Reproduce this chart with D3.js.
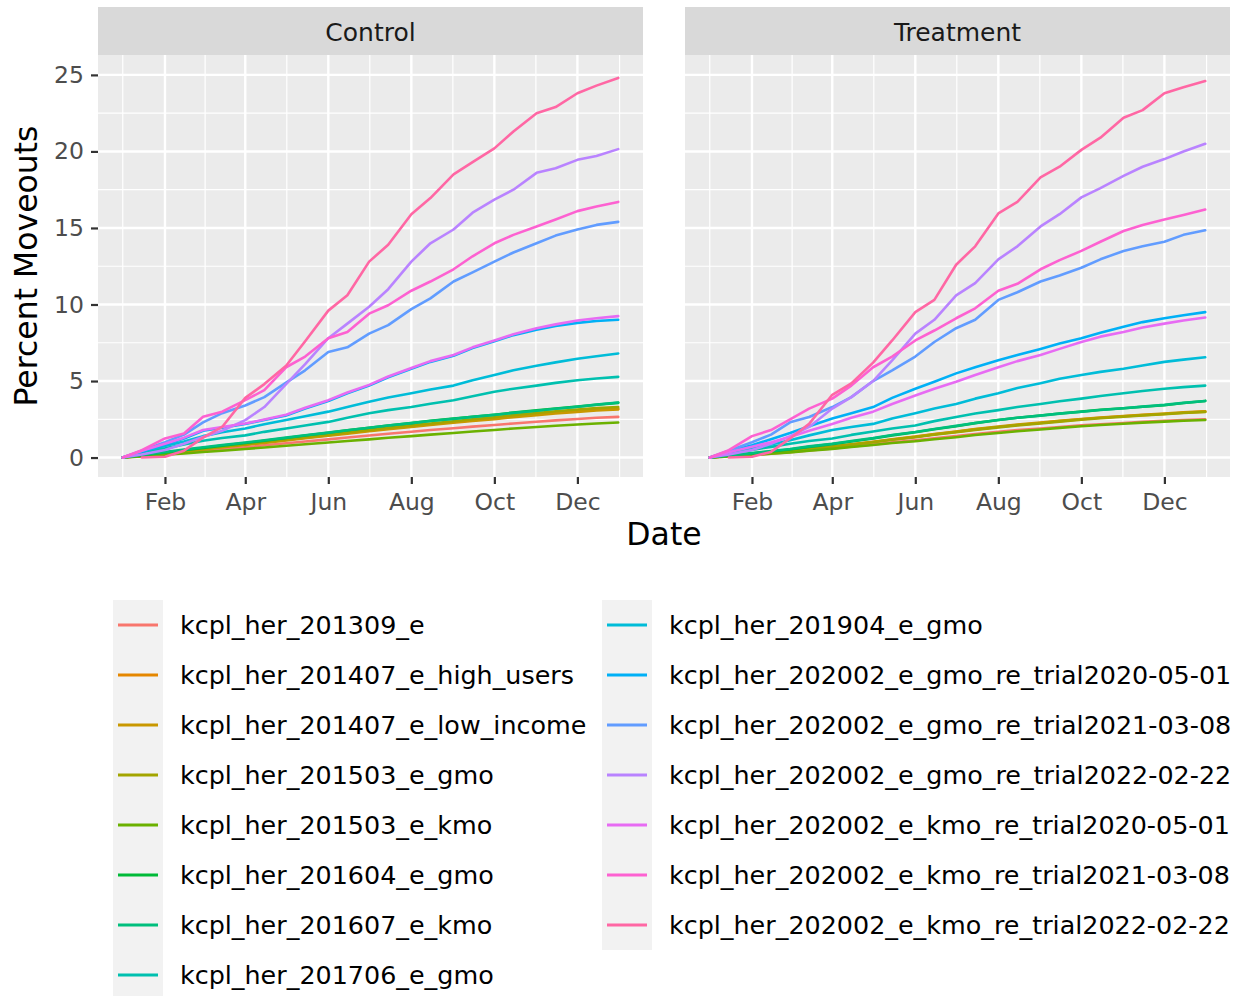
<!DOCTYPE html>
<html>
<head>
<meta charset="utf-8">
<script src="https://cdn.jsdelivr.net/npm/d3@7"></script>
<style>
  body { margin: 0; background: #fff; }
  svg { display: block; }
</style>
</head>
<body>
<script>
// facet names and series (legend order = draw order)
const panels = ["Control", "Treatment"];

const seriesNames = [
  "kcpl_her_201309_e",
  "kcpl_her_201407_e_high_users",
  "kcpl_her_201407_e_low_income",
  "kcpl_her_201503_e_gmo",
  "kcpl_her_201503_e_kmo",
  "kcpl_her_201604_e_gmo",
  "kcpl_her_201607_e_kmo",
  "kcpl_her_201706_e_gmo",
  "kcpl_her_201904_e_gmo",
  "kcpl_her_202002_e_gmo_re_trial2020-05-01",
  "kcpl_her_202002_e_gmo_re_trial2021-03-08",
  "kcpl_her_202002_e_gmo_re_trial2022-02-22",
  "kcpl_her_202002_e_kmo_re_trial2020-05-01",
  "kcpl_her_202002_e_kmo_re_trial2021-03-08",
  "kcpl_her_202002_e_kmo_re_trial2022-02-22"
];

const seriesColors = [
  "#F8766D", "#E58700", "#C99800", "#A3A500", "#6BB100",
  "#00BA38", "#00BF7D", "#00C0AF", "#00BCD8", "#00B0F6",
  "#619CFF", "#B983FF", "#E76BF3", "#FD61D1", "#FF67A4"
];

// sample dates (1st and 15th of each month)
const dates = [
  "2023-01-01", "2023-01-15", "2023-02-01", "2023-02-15", "2023-03-01",
  "2023-03-15", "2023-04-01", "2023-04-15", "2023-05-01", "2023-05-15",
  "2023-06-01", "2023-06-15", "2023-07-01", "2023-07-15", "2023-08-01",
  "2023-08-15", "2023-09-01", "2023-09-15", "2023-10-01", "2023-10-15",
  "2023-11-01", "2023-11-15", "2023-12-01", "2023-12-15", "2023-12-31"
];

// percent moveouts, one row per series
const controlValues = [
  [0,0.09,0.2,0.31,0.42,0.54,0.67,0.8,0.93,1.05,1.19,1.31,1.44,1.56,1.69,1.8,1.92,2.02,2.13,2.23,2.34,2.43,2.52,2.6,2.66],
  [0,0.12,0.28,0.42,0.55,0.7,0.85,1.0,1.15,1.3,1.46,1.6,1.77,1.9,2.05,2.18,2.32,2.44,2.56,2.7,2.83,2.94,3.05,3.13,3.2],
  [0,0.11,0.26,0.4,0.53,0.67,0.82,0.96,1.11,1.26,1.42,1.56,1.72,1.86,2.0,2.13,2.27,2.39,2.51,2.64,2.77,2.88,2.98,3.07,3.15],
  [0,0.13,0.3,0.44,0.58,0.73,0.88,1.03,1.19,1.34,1.5,1.65,1.81,1.95,2.1,2.23,2.37,2.5,2.63,2.77,2.91,3.03,3.14,3.23,3.3],
  [0,0.08,0.18,0.27,0.36,0.45,0.56,0.66,0.77,0.87,0.98,1.08,1.19,1.29,1.4,1.5,1.6,1.7,1.8,1.9,2.0,2.08,2.16,2.23,2.29],
  [0,0.15,0.33,0.48,0.62,0.78,0.95,1.1,1.28,1.44,1.62,1.78,1.95,2.1,2.25,2.4,2.55,2.67,2.8,2.94,3.08,3.2,3.33,3.45,3.57],
  [0,0.17,0.36,0.52,0.67,0.82,0.98,1.13,1.3,1.46,1.63,1.78,1.95,2.1,2.25,2.39,2.53,2.66,2.79,2.92,3.06,3.19,3.32,3.46,3.6],
  [0,0.35,0.6,0.85,1.1,1.28,1.45,1.68,1.9,2.1,2.33,2.6,2.9,3.1,3.3,3.52,3.75,4.0,4.3,4.5,4.7,4.88,5.05,5.17,5.27],
  [0,0.4,0.75,1.05,1.4,1.65,1.9,2.18,2.45,2.7,3.0,3.3,3.65,3.92,4.2,4.45,4.7,5.05,5.4,5.7,6.0,6.22,6.45,6.62,6.8],
  [0,0.4,0.85,1.25,1.75,1.95,2.2,2.45,2.75,3.2,3.7,4.2,4.7,5.25,5.8,6.25,6.65,7.15,7.6,8.0,8.35,8.6,8.8,8.92,9.0],
  [0,0.45,1.0,1.5,2.3,2.9,3.4,3.95,4.9,5.7,6.9,7.2,8.1,8.65,9.7,10.4,11.5,12.1,12.8,13.4,14.0,14.5,14.9,15.2,15.4],
  [0,0.2,0.5,0.9,1.35,1.75,2.45,3.3,4.8,6.1,7.8,8.75,9.85,11.0,12.8,14.0,14.9,16.0,16.85,17.5,18.6,18.9,19.45,19.7,20.15],
  [0,0.45,0.9,1.3,1.8,2.0,2.22,2.48,2.8,3.25,3.75,4.25,4.75,5.3,5.85,6.3,6.7,7.2,7.65,8.05,8.45,8.7,8.95,9.1,9.24],
  [0,0.48,1.25,1.57,2.66,3.0,3.75,4.4,5.9,6.6,7.8,8.2,9.4,9.95,10.9,11.5,12.3,13.15,14.0,14.55,15.1,15.55,16.1,16.4,16.7],
  [null,0,0.05,0.45,1.3,2.0,3.9,4.8,6.0,7.6,9.6,10.6,12.8,13.9,15.9,16.95,18.5,19.3,20.2,21.3,22.5,22.9,23.8,24.3,24.8]
];

const treatmentValues = [
  [0,0.08,0.17,0.26,0.35,0.46,0.6,0.72,0.85,0.99,1.13,1.26,1.4,1.54,1.68,1.79,1.9,2.0,2.1,2.18,2.26,2.33,2.4,2.45,2.5],
  [0,0.1,0.2,0.32,0.43,0.56,0.7,0.85,1.02,1.18,1.35,1.52,1.68,1.84,2.0,2.13,2.26,2.38,2.5,2.6,2.7,2.77,2.85,2.93,3.0],
  [0,0.1,0.21,0.33,0.44,0.57,0.72,0.86,1.03,1.2,1.37,1.53,1.7,1.86,2.02,2.15,2.28,2.4,2.52,2.62,2.72,2.8,2.88,2.96,3.03],
  [0,0.1,0.2,0.31,0.42,0.55,0.69,0.84,1.0,1.16,1.33,1.49,1.65,1.81,1.97,2.1,2.23,2.35,2.47,2.57,2.67,2.75,2.83,2.91,2.98],
  [0,0.08,0.16,0.25,0.34,0.45,0.57,0.69,0.82,0.95,1.07,1.2,1.33,1.47,1.6,1.72,1.83,1.94,2.05,2.13,2.21,2.28,2.35,2.4,2.45],
  [0,0.13,0.27,0.4,0.53,0.7,0.88,1.05,1.25,1.45,1.65,1.85,2.05,2.25,2.45,2.6,2.75,2.88,3.0,3.12,3.22,3.32,3.42,3.56,3.7],
  [0,0.14,0.29,0.43,0.56,0.73,0.9,1.08,1.27,1.47,1.67,1.87,2.07,2.26,2.45,2.6,2.74,2.87,2.99,3.11,3.22,3.33,3.44,3.57,3.7],
  [0,0.25,0.5,0.7,0.9,1.08,1.25,1.48,1.7,1.9,2.1,2.38,2.65,2.88,3.1,3.3,3.5,3.68,3.85,4.02,4.2,4.35,4.5,4.6,4.7],
  [0,0.3,0.6,0.85,1.13,1.45,1.8,2.0,2.2,2.55,2.9,3.2,3.5,3.85,4.2,4.55,4.85,5.15,5.4,5.6,5.8,6.02,6.25,6.4,6.55],
  [0,0.4,0.8,1.2,1.6,2.05,2.55,2.9,3.3,3.9,4.5,4.95,5.5,5.9,6.35,6.7,7.1,7.45,7.8,8.15,8.55,8.85,9.1,9.3,9.5],
  [0,0.45,1.0,1.5,2.3,2.65,3.3,3.95,5.0,5.7,6.6,7.55,8.45,9.0,10.3,10.8,11.5,11.9,12.4,12.95,13.5,13.8,14.1,14.55,14.85],
  [0,0.2,0.5,0.9,1.4,2.0,3.2,3.95,5.0,6.35,8.1,9.0,10.6,11.4,12.95,13.8,15.1,15.9,17.0,17.6,18.4,19.0,19.5,20.0,20.5],
  [0,0.35,0.7,1.0,1.35,1.75,2.2,2.6,3.0,3.5,4.05,4.5,4.95,5.4,5.9,6.3,6.7,7.1,7.55,7.9,8.2,8.5,8.75,8.95,9.15],
  [0,0.48,1.4,1.8,2.5,3.2,3.85,4.7,5.9,6.6,7.65,8.3,9.1,9.75,10.9,11.35,12.3,12.9,13.5,14.1,14.8,15.2,15.55,15.85,16.2],
  [null,0,0.05,0.37,1.25,2.2,4.1,4.85,6.2,7.65,9.5,10.3,12.6,13.8,15.95,16.7,18.3,19.0,20.1,20.9,22.2,22.7,23.8,24.2,24.6]
];

const xTickDates = ["2023-02-01", "2023-04-01", "2023-06-01", "2023-08-01", "2023-10-01", "2023-12-01"];
const yTicks = [0, 5, 10, 15, 20, 25];

// ---- layout ----
const W = 1235, H = 996;
const panelLeft = [98, 685];
const panelW = 545;
const stripTop = 7, plotTop = 55, plotBottom = 477;

const svg = d3.select("body").append("svg")
    .attr("width", W)
    .attr("height", H)
    .style("font-family", "'DejaVu Sans', sans-serif");

const parse = d3.utcParse("%Y-%m-%d");
const dateVals = dates.map(parse);
const majors = xTickDates.map(parse);

// ggplot-like 5% expansion
const [d0, d1] = d3.extent(dateVals);
const pad = (d1 - d0) * 0.05;
const xDomain = [new Date(+d0 - pad), new Date(+d1 + pad)];

const y = d3.scaleLinear().domain([-1.27, 26.3]).range([plotBottom, plotTop]);

// minor breaks sit halfway between the major ones
const extMajors = [d3.utcMonth.offset(majors[0], -2), ...majors, d3.utcMonth.offset(majors[majors.length - 1], 2)];
const xMinor = d3.pairs(extMajors).map(([a, b]) => new Date((+a + +b) / 2));
const yMinor = d3.pairs(yTicks.concat([30])).map(([a, b]) => (a + b) / 2).concat([-2.5]);

const panelValues = [controlValues, treatmentValues];

panels.forEach((name, p) => {
  const x0 = panelLeft[p];
  const x = d3.scaleUtc().domain(xDomain).range([x0, x0 + panelW]);
  const g = svg.append("g");

  // strip
  g.append("rect")
    .attr("x", x0).attr("y", stripTop)
    .attr("width", panelW).attr("height", plotTop - stripTop)
    .attr("fill", "#D9D9D9");
  g.append("text")
    .attr("x", x0 + panelW / 2).attr("y", (stripTop + plotTop) / 2 + 1)
    .attr("text-anchor", "middle").attr("dominant-baseline", "central")
    .attr("font-size", 25).attr("fill", "#1A1A1A")
    .text(name);

  // panel background
  g.append("rect")
    .attr("x", x0).attr("y", plotTop)
    .attr("width", panelW).attr("height", plotBottom - plotTop)
    .attr("fill", "#EBEBEB");

  const grid = g.append("g").attr("stroke", "#fff");
  grid.selectAll("line.ymin")
    .data(yMinor.filter(v => y(v) > plotTop && y(v) < plotBottom))
    .join("line").attr("class", "ymin")
    .attr("x1", x0).attr("x2", x0 + panelW)
    .attr("y1", d => y(d)).attr("y2", d => y(d))
    .attr("stroke-width", 1.2);
  grid.selectAll("line.xmin")
    .data(xMinor.filter(d => x(d) > x0 && x(d) < x0 + panelW))
    .join("line").attr("class", "xmin")
    .attr("x1", d => x(d)).attr("x2", d => x(d))
    .attr("y1", plotTop).attr("y2", plotBottom)
    .attr("stroke-width", 1.2);
  grid.selectAll("line.ymaj")
    .data(yTicks)
    .join("line").attr("class", "ymaj")
    .attr("x1", x0).attr("x2", x0 + panelW)
    .attr("y1", d => y(d)).attr("y2", d => y(d))
    .attr("stroke-width", 2.4);
  grid.selectAll("line.xmaj")
    .data(majors)
    .join("line").attr("class", "xmaj")
    .attr("x1", d => x(d)).attr("x2", d => x(d))
    .attr("y1", plotTop).attr("y2", plotBottom)
    .attr("stroke-width", 2.4);

  // series lines
  const line = d3.line()
    .defined(d => d[1] != null)
    .x(d => x(d[0]))
    .y(d => y(d[1]));

  g.append("g")
    .selectAll("path")
    .data(panelValues[p])
    .join("path")
    .attr("d", vals => line(vals.map((v, i) => [dateVals[i], v])))
    .attr("fill", "none")
    .attr("stroke", (d, i) => seriesColors[i])
    .attr("stroke-width", 2.6)
    .attr("stroke-linejoin", "round")
    .attr("stroke-linecap", "round");

  // x axis
  const xAxis = g.append("g")
    .attr("transform", `translate(0,${plotBottom})`)
    .call(d3.axisBottom(x).tickValues(majors).tickFormat(d3.utcFormat("%b")).tickSize(7).tickPadding(9));
  xAxis.select(".domain").remove();
  xAxis.selectAll(".tick line").attr("stroke", "#333333").attr("stroke-width", 2.2);
  xAxis.selectAll(".tick text").attr("fill", "#4D4D4D").attr("font-size", 23.5).attr("font-family", "'DejaVu Sans', sans-serif");

  // y axis on the first panel only
  if (p === 0) {
    const yAxis = g.append("g")
      .attr("transform", `translate(${x0},0)`)
      .call(d3.axisLeft(y).tickValues(yTicks).tickSize(7).tickPadding(7));
    yAxis.select(".domain").remove();
    yAxis.selectAll(".tick line").attr("stroke", "#333333").attr("stroke-width", 2.2);
    yAxis.selectAll(".tick text").attr("fill", "#4D4D4D").attr("font-size", 23.5).attr("font-family", "'DejaVu Sans', sans-serif");
  }
});

// axis titles
svg.append("text")
  .attr("x", (panelLeft[0] + panelLeft[1] + panelW) / 2)
  .attr("y", 545)
  .attr("text-anchor", "middle")
  .attr("font-size", 31.5)
  .attr("fill", "#000")
  .text("Date");

svg.append("text")
  .attr("transform", `translate(37,${(plotTop + plotBottom) / 2}) rotate(-90)`)
  .attr("text-anchor", "middle")
  .attr("font-size", 31.5)
  .attr("fill", "#000")
  .text("Percent Moveouts");

// ---- legend: two columns, 8 + 7 rows ----
const legendTop = 600, rowH = 50;
const legendCols = [
  { x: 113, items: d3.range(0, 8) },
  { x: 602, items: d3.range(8, 15) }
];

legendCols.forEach(col => {
  const lg = svg.append("g");
  lg.append("rect")
    .attr("x", col.x).attr("y", legendTop)
    .attr("width", 50).attr("height", col.items.length * rowH)
    .attr("fill", "#F2F2F2");
  const rows = lg.selectAll("g.row")
    .data(col.items)
    .join("g").attr("class", "row")
    .attr("transform", (d, i) => `translate(${col.x},${legendTop + rowH * i + rowH / 2})`);
  rows.append("line")
    .attr("x1", 5).attr("x2", 45)
    .attr("stroke", d => seriesColors[d])
    .attr("stroke-width", 2.8);
  rows.append("text")
    .attr("x", 67)
    .attr("dominant-baseline", "central")
    .attr("font-size", 25.4)
    .attr("fill", "#000")
    .text(d => seriesNames[d]);
});
</script>
</body>
</html>
